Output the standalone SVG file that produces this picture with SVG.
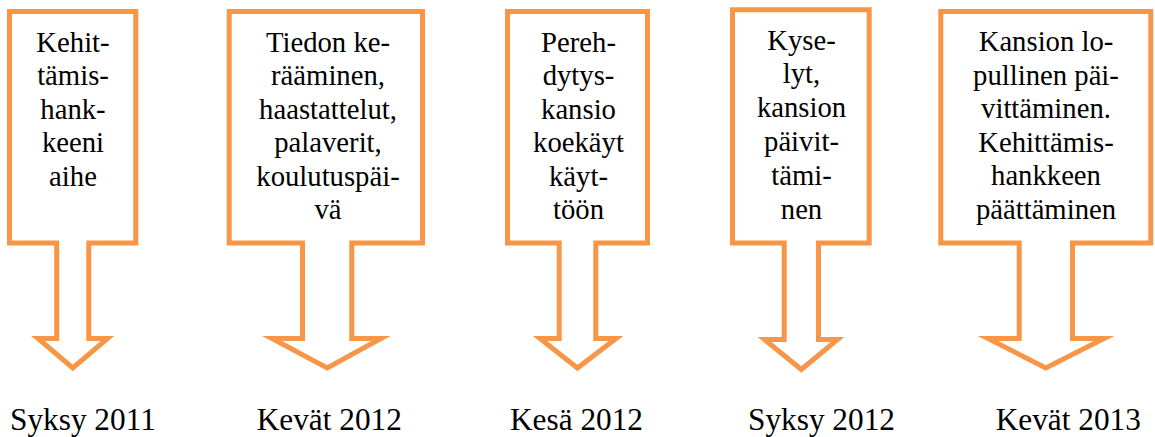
<svg xmlns="http://www.w3.org/2000/svg" width="1155" height="437" viewBox="0 0 1155 437">
<style>
.shape{fill:#ffffff;stroke:#F79646;stroke-width:5;stroke-linejoin:miter;stroke-miterlimit:10}
text{font-family:'Liberation Serif','Times New Roman',serif;fill:#000000}
.t{font-size:28.7px;text-anchor:middle}
.lbl{font-size:31.3px}
</style>
<rect width="1155" height="437" fill="#ffffff"/>
<g id="node1">
<path class="shape" d="M9.5,11.5 H135.8 V243 H88.8 V338.5 H107.5 L72.8,368 L38,338.5 H56.7 V243 H9.5 Z"/>
<text class="t" x="73" y="51.7">Kehit-</text>
<text class="t" x="73" y="85.2">tämis-</text>
<text class="t" x="73" y="118.7">hank-</text>
<text class="t" x="73" y="152.2">keeni</text>
<text class="t" x="73" y="185.7">aihe</text>
</g>
<g id="node2">
<path class="shape" d="M229.2,11.5 H422.5 V243 H351.8 V338.5 H381 L327.2,368 L272,338.5 H302.5 V243 H229.2 Z"/>
<text class="t" x="328" y="51.7">Tiedon ke-</text>
<text class="t" x="328" y="85.2">rääminen,</text>
<text class="t" x="328" y="118.7">haastattelut,</text>
<text class="t" x="328" y="152.2">palaverit,</text>
<text class="t" x="328" y="185.7">koulutuspäi-</text>
<text class="t" x="328" y="219.2">vä</text>
</g>
<g id="node3">
<path class="shape" d="M507.5,11.5 H647.5 V243 H595.8 V338.5 H616 L577.5,368 L540,338.5 H559.2 V243 H507.5 Z"/>
<text class="t" x="578.5" y="51.7">Pereh-</text>
<text class="t" x="578.5" y="85.2">dytys-</text>
<text class="t" x="578.5" y="118.7">kansio</text>
<text class="t" x="578.5" y="152.2">koekäyt</text>
<text class="t" x="578.5" y="185.7">käyt-</text>
<text class="t" x="578.5" y="219.2">töön</text>
</g>
<g id="node4">
<path class="shape" d="M732.5,9.8 H869.2 V243 H818.5 V339.5 H837.5 L801.3,369.5 L764.5,339.5 H784.2 V243 H732.5 Z"/>
<text class="t" x="801.5" y="49.5">Kyse-</text>
<text class="t" x="801.5" y="83.3">lyt,</text>
<text class="t" x="801.5" y="117.1">kansion</text>
<text class="t" x="801.5" y="150.9">päivit-</text>
<text class="t" x="801.5" y="184.7">tämi-</text>
<text class="t" x="801.5" y="218.5">nen</text>
</g>
<g id="node5">
<path class="shape" d="M940.8,11.5 H1150.8 V243 H1072.5 V338.5 H1104 L1045.8,368 L988,338.5 H1019.2 V243 H940.8 Z"/>
<text class="t" x="1046" y="51.2">Kansion lo-</text>
<text class="t" x="1046" y="84.7">pullinen päi-</text>
<text class="t" x="1046" y="118.2">vittäminen.</text>
<text class="t" x="1046" y="151.7">Kehittämis-</text>
<text class="t" x="1046" y="185.2">hankkeen</text>
<text class="t" x="1046" y="218.7">päättäminen</text>
</g>
<g id="connectors"></g>
<g id="labels">
<text class="lbl" x="10" y="430">Syksy 2011</text>
<text class="lbl" x="256.7" y="430">Kevät 2012</text>
<text class="lbl" x="510" y="430">Kesä 2012</text>
<text class="lbl" x="748" y="430">Syksy 2012</text>
<text class="lbl" x="995.7" y="430">Kevät 2013</text>
</g>
</svg>
